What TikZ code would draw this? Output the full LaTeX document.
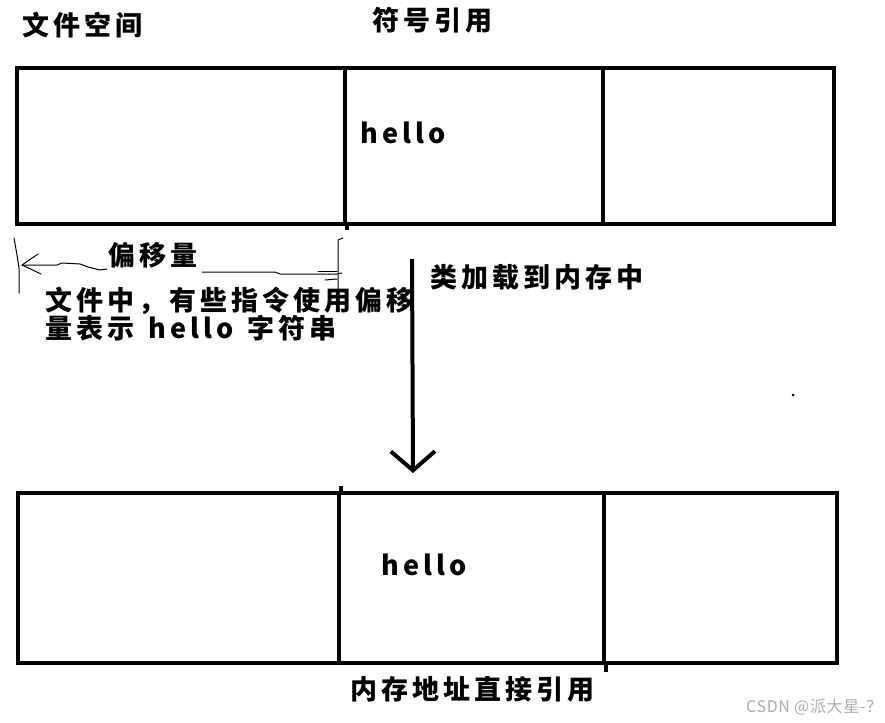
\documentclass[tikz,border=0pt]{standalone}
\usepackage{fontspec}
\usepackage{xcolor}
\usepackage{tikz}
\usetikzlibrary{matrix,arrows.meta}
\newfontfamily\cjk{Noto Sans CJK SC}[LetterSpace=15]
\newfontfamily\wm{Noto Sans CJK SC}[LetterSpace=4]
\definecolor{wmgray}{HTML}{ABABAB}

\begin{document}
\begin{tikzpicture}[x=1pt,y=-1pt,
		cell/.style={draw, line width=3.5pt, inner sep=0pt},
		txt/.style={inner sep=0pt, anchor=west, font=\cjk\bfseries\fontsize{27}{27}\selectfont},
		hand/.style={line width=1pt, line join=round, line cap=round},
		bigarrow/.style={line width=4pt, -{Straight Barb[length=19pt,width=44pt]}}]
	\useasboundingbox (0,0) rectangle (885,722);
	\matrix(top)[matrix of nodes, nodes={cell, minimum height=156pt}, nodes in empty cells, column sep=-3.5pt, inner sep=0pt, anchor=north west] at (15.25,66.25){
		|[minimum width=328pt]|& |[minimum width=258pt]|& |[minimum width=231pt]|\\
	};
	\matrix(bot)[matrix of nodes, nodes={cell, minimum height=170pt}, nodes in empty cells, column sep=-3.5pt, inner sep=0pt, anchor=north west] at (16.25,491.25){
		|[minimum width=321pt]|& |[minimum width=265pt]|& |[minimum width=233pt]|\\
	};
	\draw[line width=3.5pt] (top-1-1.south east) -- ++(0,4);
	\draw[line width=3.5pt] (bot-1-1.north east) -- ++(0,-5);
	\draw[line width=3.5pt] (bot-1-2.south east) -- ++(0,7);
	\node[txt] (file) at (22,25) {文件空间};
	\node[txt] (sym) at (372,20) {符号引用};
	\node[txt] (hello1) at (360,133) {hello};
	\node[txt] (hello2) at (381,565) {hello};
	\node[txt] (load) at (430,277) {类加载到内存中};
	\node[txt] (off) at (108,255) {偏移量};
	\node[txt, align=left] (note) at (45,314) {文件中，有些指令使用偏移\\量表示\hspace{14pt}hello\hspace{14pt}字符串};
	\node[txt] (mem) at (350,689) {内存地址直接引用};
	\node[inner sep=0pt, anchor=west, font=\wm\fontsize{16}{16}\selectfont, text=wmgray] (mark) at (746,707) {CSDN @派大星-？};
	\coordinate (src) at (412,259);
	\coordinate (dst) at (413,473);
	\draw[bigarrow] (src) -- (dst);
	\coordinate (ol) at (22,265);
	\coordinate (or) at (342,273);
	\draw[hand] (14,238) -- (17,255) -- (19,268) -- (19,293);
	\draw[hand] (343,238) -- (338,240) -- (338,290);
	\draw[hand] (38,254) -- (ol) -- (41,274);
	\draw[hand] (ol) -- (57,265) -- (62,263) -- (80,264) -- (88,267) -- (100,270) -- (107,269);
	\draw[hand] (202,272) -- (275,272) -- (280,274) -- (337,274) -- (or);
	\draw[hand] (318,271) -- (337,271);
	\draw[hand] (325,280) -- (337,279);
	\fill (793,395) circle (1.5pt);
\end{tikzpicture}
\end{document}
